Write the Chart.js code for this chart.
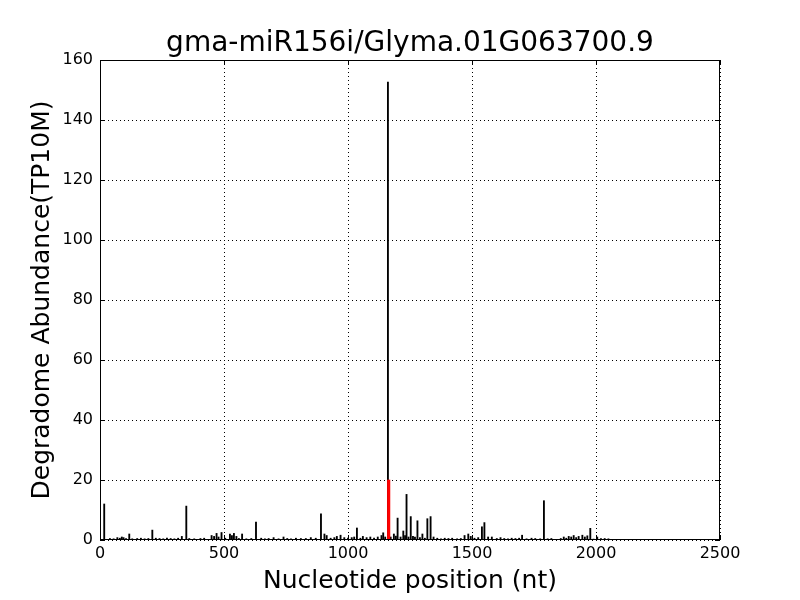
<!DOCTYPE html>
<html>
<head>
<meta charset="utf-8">
<title>gma-miR156i/Glyma.01G063700.9</title>
<script src="https://cdn.jsdelivr.net/npm/chart.js@4/dist/chart.umd.min.js"></script>
<style>
  html, body { margin: 0; padding: 0; background: #fff; }
  #wrap { width: 800px; height: 600px; }
</style>
</head>
<body>
<div id="wrap"><canvas id="plot" width="800" height="600"></canvas></div>
<script>
// degradome reads along the transcript (position in nt, abundance in TP10M)
const positions = [
  17, 40, 55, 70, 80, 88, 95, 105, 118, 130, 150, 165, 180, 195, 211, 225, 240, 255, 270, 285,
  300, 315, 330, 348, 360, 380, 405, 420, 450, 460, 470, 478, 490, 505, 524, 532, 540, 550, 560, 573,
  590, 610, 629, 650, 665, 680, 700, 720, 740, 755, 770, 790, 810, 830, 850, 870, 891, 905, 914, 930,
  945, 955, 970, 985, 1000, 1015, 1025, 1036, 1050, 1060, 1075, 1090, 1105, 1120, 1135, 1142, 1150, 1161, 1172, 1185,
  1193, 1200, 1212, 1223, 1230, 1236, 1244, 1253, 1262, 1270, 1280, 1290, 1300, 1310, 1320, 1333, 1345, 1360, 1375, 1390,
  1405, 1420, 1440, 1455, 1470, 1485, 1495, 1510, 1525, 1540, 1550, 1565, 1580, 1600, 1615, 1630, 1645, 1660, 1675, 1690,
  1702, 1720, 1740, 1755, 1775, 1790, 1805, 1820, 1858, 1870, 1880, 1890, 1900, 1910, 1920, 1930, 1945, 1955, 1965, 1977,
  1990, 2005, 2020, 2035, 2050
];
const abundance = [
  12, 0.5, 0.4, 0.8, 0.6, 1, 0.8, 0.5, 2, 0.4, 0.5, 0.6, 0.4, 0.5, 3.3, 0.6, 0.5, 0.4, 0.6, 0.5,
  0.4, 0.6, 1.2, 11.3, 0.5, 0.4, 0.5, 0.6, 1.5, 1.2, 2.2, 1, 2.5, 0.6, 2, 1.5, 2.2, 1.2, 0.5, 2,
  0.4, 0.5, 6, 0.6, 0.4, 0.5, 0.8, 0.4, 1, 0.5, 0.4, 0.6, 0.5, 0.5, 0.8, 0.6, 8.7, 2, 1.5, 0.6,
  0.8, 1.2, 1.6, 0.8, 0.6, 0.8, 1, 4, 0.6, 1.2, 0.8, 1, 0.6, 1, 1.5, 2.4, 1, 152.6, 1, 2,
  1.3, 7.3, 1, 3, 1.5, 15.2, 1, 7.8, 1.2, 1, 6.4, 0.8, 2, 0.6, 7.1, 7.8, 1, 0.6, 0.4, 0.6,
  0.5, 0.6, 0.4, 0.5, 1.5, 2, 1.2, 0.6, 0.8, 4.4, 5.8, 1, 1, 0.5, 0.8, 0.5, 0.4, 0.6, 0.5, 0.6,
  1.6, 0.4, 0.6, 0.5, 0.4, 13.1, 0.4, 0.5, 0.5, 1, 0.6, 1.2, 1, 1.5, 0.8, 1.2, 1.6, 1, 1.4, 3.9,
  0.3, 1, 0.5, 0.5, 0.4
];

// predicted cleavage site (red)
const sitePositions = [1164];
const siteAbundance = [20];

const xTicks = [0, 500, 1000, 1500, 2000, 2500];
const yTicks = [0, 20, 40, 60, 80, 100, 120, 140, 160];

const titleText = 'gma-miR156i/Glyma.01G063700.9';
const xLabel = 'Nucleotide position (nt)';
const yLabel = 'Degradome Abundance(TP10M)';

Chart.defaults.font.family = "'DejaVu Sans', sans-serif";
Chart.defaults.color = '#000';

const readPoints = positions.map((p, i) => ({ x: p, y: abundance[i] }));
const sitePoints = sitePositions.map((p, i) => ({ x: p, y: siteAbundance[i] }));

// frame, inward ticks and title, drawn like the matplotlib original
const framePlugin = {
  id: 'frame',
  afterDraw(chart) {
    const { ctx, chartArea: a } = chart;
    const xs = chart.scales.x, ys = chart.scales.y;
    ctx.save();
    ctx.strokeStyle = '#000';
    ctx.lineWidth = 1;
    ctx.strokeRect(a.left + 0.5, a.top + 0.5, a.right - a.left - 1, a.bottom - a.top - 1);
    ctx.beginPath();
    xTicks.forEach(t => {
      const x = Math.round(xs.getPixelForValue(t)) + 0.5;
      ctx.moveTo(x, a.bottom); ctx.lineTo(x, a.bottom - 5);
      ctx.moveTo(x, a.top); ctx.lineTo(x, a.top + 5);
    });
    yTicks.forEach(t => {
      const y = Math.round(ys.getPixelForValue(t)) + 0.5;
      ctx.moveTo(a.left, y); ctx.lineTo(a.left + 5, y);
      ctx.moveTo(a.right, y); ctx.lineTo(a.right - 5, y);
    });
    ctx.stroke();
    ctx.fillStyle = '#000';
    ctx.font = "28px 'DejaVu Sans'";
    ctx.textAlign = 'center';
    ctx.textBaseline = 'alphabetic';
    ctx.fillText(titleText, (a.left + a.right) / 2, 51);
    ctx.restore();
  }
};

new Chart(document.getElementById('plot'), {
  type: 'bar',
  data: {
    datasets: [
      {
        data: sitePoints,
        backgroundColor: 'rgb(255, 0, 0)',
        barThickness: 2.5,
        grouped: false,
        order: 0
      },
      {
        data: readPoints,
        backgroundColor: '#000',
        barThickness: 1.2,
        grouped: false,
        order: 1
      }
    ]
  },
  options: {
    responsive: false,
    animation: false,
    layout: { padding: { top: 60, right: 80, bottom: 0, left: 0 } },
    plugins: {
      legend: { display: false },
      tooltip: { enabled: false }
    },
    scales: {
      x: {
        type: 'linear',
        min: 0,
        max: 2500,
        offset: false,
        afterFit: s => { s.height = 60; },
        afterBuildTicks: s => { s.ticks = xTicks.map(v => ({ value: v })); },
        ticks: { font: { size: 16 }, padding: 4, maxRotation: 0, callback: v => String(v) },
        grid: { color: '#000', drawTicks: false, lineWidth: 1, offset: false },
        border: { display: false, dash: [1, 3] },
        title: { display: true, text: xLabel, font: { size: 25 }, padding: { top: 0, bottom: 4 } }
      },
      y: {
        min: 0,
        max: 160,
        afterFit: s => { s.width = 100; },
        afterBuildTicks: s => { s.ticks = yTicks.map(v => ({ value: v })); },
        ticks: { font: { size: 16 }, padding: 7, callback: v => String(v) },
        grid: { color: '#000', drawTicks: false, lineWidth: 1 },
        border: { display: false, dash: [1, 3] },
        title: { display: true, text: yLabel, font: { size: 25 }, padding: { top: 27, bottom: 0 } }
      }
    }
  },
  plugins: [framePlugin]
});
</script>
</body>
</html>
